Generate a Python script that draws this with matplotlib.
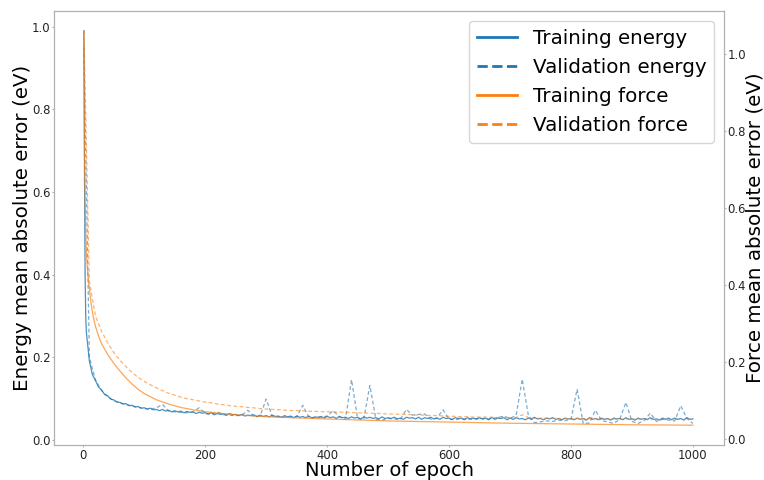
import matplotlib
matplotlib.use("Agg")
import matplotlib.pyplot as plt
from matplotlib.lines import Line2D

# ---------------- data ----------------
train_epochs = [1, 2, 3, 4] + list(range(5, 1001, 5))
train_energy = [0.99, 0.65, 0.40, 0.30,
    0.262, 0.191, 0.158, 0.144, 0.128, 0.121, 0.110, 0.107, 0.099, 0.097,
    0.092, 0.091, 0.087, 0.088, 0.083, 0.084, 0.080, 0.081, 0.077, 0.078,
    0.075, 0.077, 0.073, 0.074, 0.071, 0.074, 0.070, 0.072, 0.068, 0.071,
    0.068, 0.070, 0.066, 0.069, 0.067, 0.068, 0.064, 0.067, 0.065, 0.066,
    0.063, 0.066, 0.061, 0.064, 0.062, 0.063, 0.060, 0.064, 0.061, 0.062,
    0.059, 0.062, 0.058, 0.060, 0.059, 0.061, 0.056, 0.060, 0.057, 0.059,
    0.056, 0.060, 0.057, 0.058, 0.055, 0.059, 0.056, 0.058, 0.054, 0.058,
    0.055, 0.057, 0.054, 0.058, 0.053, 0.056, 0.055, 0.057, 0.053, 0.057,
    0.054, 0.056, 0.052, 0.057, 0.054, 0.055, 0.052, 0.056, 0.053, 0.055,
    0.051, 0.056, 0.053, 0.055, 0.052, 0.054, 0.051, 0.056, 0.052, 0.054,
    0.052, 0.055, 0.051, 0.053, 0.050, 0.055, 0.053, 0.054, 0.051, 0.055,
    0.050, 0.054, 0.052, 0.055, 0.051, 0.053, 0.050, 0.055, 0.052, 0.053,
    0.050, 0.054, 0.052, 0.053, 0.049, 0.054, 0.051, 0.053, 0.050, 0.054,
    0.051, 0.053, 0.049, 0.055, 0.050, 0.053, 0.052, 0.054, 0.049, 0.053,
    0.050, 0.054, 0.051, 0.052, 0.049, 0.053, 0.050, 0.055, 0.051, 0.052,
    0.049, 0.053, 0.051, 0.054, 0.050, 0.052, 0.049, 0.053, 0.051, 0.052,
    0.049, 0.053, 0.050, 0.052, 0.048, 0.054, 0.050, 0.052, 0.049, 0.053,
    0.050, 0.052, 0.048, 0.053, 0.051, 0.052, 0.049, 0.054, 0.050, 0.051,
    0.048, 0.053, 0.050, 0.052, 0.049, 0.054, 0.050, 0.051, 0.048, 0.053,
    0.050, 0.053, 0.049, 0.053, 0.050, 0.052, 0.048, 0.054, 0.050, 0.051]

train_force_epochs = [1, 2, 3, 4, 5, 6, 8, 10, 13, 16, 20, 25, 30, 40, 50, 60,
                      70, 80, 90, 100, 120, 140, 160, 180, 200, 250, 300, 350,
                      400, 500, 600, 700, 800, 900, 1000]
train_force = [1.062, 0.75, 0.62, 0.54, 0.49, 0.46, 0.42, 0.39, 0.35, 0.32,
               0.293, 0.268, 0.248, 0.220, 0.197, 0.177, 0.159, 0.143, 0.129,
               0.118, 0.102, 0.091, 0.082, 0.076, 0.071, 0.063, 0.058, 0.055,
               0.052, 0.047, 0.044, 0.041, 0.039, 0.037, 0.036]

val_epochs = [1] + list(range(10, 1001, 10))
val_energy = [0.95,
    0.200, 0.145, 0.120, 0.105, 0.095, 0.090, 0.086, 0.082, 0.079, 0.076,
    0.074, 0.078, 0.086, 0.070, 0.068, 0.067, 0.066, 0.068, 0.078, 0.064,
    0.062, 0.068, 0.061, 0.060, 0.059, 0.060, 0.072, 0.057, 0.058, 0.099,
    0.057, 0.056, 0.055, 0.056, 0.056, 0.084, 0.055, 0.054, 0.055, 0.058,
    0.071, 0.056, 0.050, 0.146, 0.052, 0.049, 0.132, 0.050, 0.048, 0.052,
    0.051, 0.050, 0.074, 0.060, 0.062, 0.063, 0.050, 0.053, 0.073, 0.050,
    0.049, 0.052, 0.050, 0.051, 0.053, 0.050, 0.052, 0.054, 0.058, 0.052,
    0.060, 0.147, 0.060, 0.042, 0.044, 0.046, 0.045, 0.048, 0.047, 0.050,
    0.123, 0.040, 0.041, 0.072, 0.047, 0.044, 0.040, 0.050, 0.091, 0.045,
    0.040, 0.047, 0.065, 0.045, 0.050, 0.048, 0.046, 0.083, 0.052, 0.040]
val_force = [1.062,
    0.410, 0.320, 0.280, 0.250, 0.225, 0.205, 0.188, 0.173, 0.160, 0.150,
    0.141, 0.133, 0.126, 0.119, 0.114, 0.109, 0.105, 0.102, 0.099, 0.096,
    0.094, 0.091, 0.089, 0.087, 0.085, 0.084, 0.082, 0.081, 0.079, 0.078,
    0.077, 0.076, 0.075, 0.074, 0.074, 0.073, 0.072, 0.072, 0.071, 0.071,
    0.070, 0.070, 0.069, 0.069, 0.068, 0.068, 0.067, 0.067, 0.066, 0.065,
    0.065, 0.064, 0.064, 0.063, 0.062, 0.062, 0.061, 0.061, 0.060, 0.059,
    0.059, 0.058, 0.058, 0.057, 0.057, 0.057, 0.056, 0.056, 0.056, 0.055,
    0.056, 0.063, 0.056, 0.054, 0.054, 0.054, 0.054, 0.053, 0.053, 0.053,
    0.053, 0.053, 0.053, 0.053, 0.052, 0.052, 0.052, 0.052, 0.052, 0.052,
    0.052, 0.052, 0.051, 0.051, 0.051, 0.051, 0.051, 0.051, 0.051, 0.051]

labels = ["Training energy", "Validation energy", "Training force", "Validation force"]
xlabel = "Number of epoch"
ylabel_left = "Energy mean absolute error (eV)"
ylabel_right = "Force mean absolute error (eV)"

# ---------------- plot ----------------
blue = "#1f77b4"
orange = "#ff7f0e"
spine_col = "#b0b0b0"

fig = plt.figure(figsize=(7.64, 4.8), dpi=100)
ax = fig.add_axes([0.0707, 0.073, 0.877, 0.904])
ax2 = ax.twinx()

ax.plot(train_epochs, train_energy, color=blue, lw=0.9, alpha=0.8)
ax.plot(val_epochs, val_energy, color=blue, lw=0.9, ls="--", alpha=0.6, dashes=(3, 2))
ax2.plot(train_force_epochs, train_force, color=orange, lw=0.9, alpha=0.7)
ax2.plot(val_epochs, val_force, color=orange, lw=0.9, ls="--", alpha=0.6, dashes=(3, 2))

ax.set_xlim(-48, 1051)
ax.set_ylim(-0.012, 1.038)
ax2.set_ylim(-0.0155, 1.113)
ax.set_xticks([0, 200, 400, 600, 800, 1000])
ax.set_yticks([0.0, 0.2, 0.4, 0.6, 0.8, 1.0])
ax2.set_yticks([0.0, 0.2, 0.4, 0.6, 0.8, 1.0])

for a in (ax, ax2):
    for s in a.spines.values():
        s.set_color(spine_col)
    a.tick_params(labelsize=8.4, labelcolor="#222222", color=spine_col,
                  length=1.6, width=0.8, pad=1.0)

ax.set_xlabel(xlabel, fontsize=14.0, labelpad=-0.3)
ax.set_ylabel(ylabel_left, fontsize=14.3, labelpad=0)
ax2.set_ylabel(ylabel_right, fontsize=14.3, labelpad=-0.5)

handles = [Line2D([], [], color=blue, lw=2),
           Line2D([], [], color=blue, lw=2, ls="--"),
           Line2D([], [], color=orange, lw=2),
           Line2D([], [], color=orange, lw=2, ls="--")]
ax2.legend(handles, labels, loc="upper right", fontsize=14.3, framealpha=0.8)

fig.savefig("out.png", dpi=100)
